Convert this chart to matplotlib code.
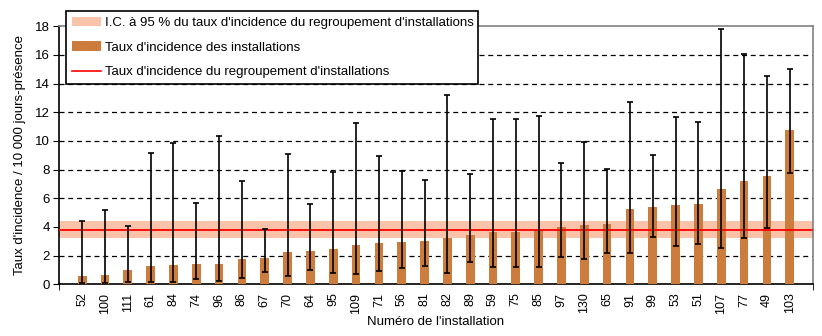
import matplotlib.pyplot as plt
from matplotlib.patches import Patch
from matplotlib.lines import Line2D
import numpy as np

plt.rcParams['font.family'] = ['Liberation Sans', 'DejaVu Sans']

# Data
installations = ['52', '100', '111', '61', '84', '74', '96', '86', '67', '70', '64',
                 '95', '109', '71', '56', '81', '82', '89', '59', '75', '85', '97',
                 '130', '65', '91', '99', '53', '51', '107', '77', '49', '103']
taux = [0.58, 0.65, 1.00, 1.28, 1.35, 1.42, 1.42, 1.77, 1.84, 2.26, 2.33,
        2.47, 2.74, 2.88, 2.95, 3.02, 3.23, 3.44, 3.65, 3.65, 3.77, 4.00,
        4.14, 4.21, 5.26, 5.40, 5.53, 5.63, 6.65, 7.21, 7.56, 10.77]
ic_bas = [0.07, 0.07, 0.19, 0.14, 0.14, 0.35, 0.21, 0.42, 0.84, 0.56, 0.98,
          0.77, 0.70, 0.91, 1.12, 1.28, 0.77, 1.53, 1.19, 1.19, 1.19, 1.88,
          1.74, 2.16, 2.16, 3.28, 2.65, 2.79, 2.51, 3.21, 3.91, 7.74]
ic_haut = [4.40, 5.16, 4.05, 9.14, 9.86, 5.65, 10.33, 7.19, 3.84, 9.07, 5.58,
           7.81, 11.23, 8.95, 7.91, 7.26, 13.19, 7.67, 11.51, 11.51, 11.77, 8.44,
           9.95, 8.07, 12.70, 9.00, 11.65, 11.30, 17.79, 16.05, 14.51, 15.00]

taux_regroupement = 3.77
ic_regroupement = (3.25, 4.40)

bar_color = '#CC7D3D'
band_color = '#F9C3AA'

fig = plt.figure(figsize=(8.22, 3.36), dpi=100)
ax = fig.add_axes([0.0722, 0.1539, 0.9163, 0.7678])

x = np.arange(len(installations))
taux = np.array(taux)
err = [taux - np.array(ic_bas), np.array(ic_haut) - taux]

# gridlines
for yv in range(2, 18, 2):
    ax.axhline(yv, color='black', lw=0.9, ls=(0, (4, 3)), zorder=1)

ax.axhspan(ic_regroupement[0], ic_regroupement[1], color=band_color, lw=0, zorder=2)
ax.bar(x, taux, width=0.38, color=bar_color, zorder=3)
ax.axhline(taux_regroupement, color='#FF0000', lw=1.3, zorder=4)
ax.errorbar(x, taux, yerr=err, fmt='none', ecolor='black', elinewidth=1.2,
            capsize=2.4, capthick=1.2, zorder=5)

ax.set_xlim(-1, 32)
ax.set_ylim(0, 18)
ax.set_yticks(range(0, 19, 2))
ax.set_xticks(x)
ax.set_xticklabels(installations, rotation=90, fontsize=9)
ax.tick_params(axis='x', length=0, pad=6)
ax.set_xticks([-1, 32], minor=True)
ax.tick_params(axis='x', which='minor', length=4, color='black')
ax.tick_params(axis='y', length=4, labelsize=9.5, pad=3)

for s in ['left', 'bottom']:
    ax.spines[s].set_color('black')
    ax.spines[s].set_linewidth(1.2)
for s in ['top', 'right']:
    ax.spines[s].set_color('#808080')
    ax.spines[s].set_linewidth(1.2)

ax.set_ylabel("Taux d'incidence / 10 000 jours-présence", fontsize=9.5, labelpad=6)
ax.set_xlabel("Numéro de l'installation", fontsize=9.5, labelpad=2)

handles = [Patch(facecolor=band_color, edgecolor='none'),
           Patch(facecolor=bar_color, edgecolor='none'),
           Line2D([0], [0], color='#FF0000', lw=1.2)]
labels = ["I.C. à 95 % du taux d'incidence du regroupement d'installations",
          "Taux d'incidence des installations",
          "Taux d'incidence du regroupement d'installations"]
leg = fig.legend(handles, labels, loc='upper left', mode='expand',
                 bbox_to_anchor=(0.080, 0.746, 0.502, 0.222),
                 bbox_transform=fig.transFigure, borderaxespad=0,
                 fancybox=False, edgecolor='black', framealpha=1,
                 fontsize=9.5, handlelength=2.2, handletextpad=0.3,
                 labelspacing=0.95, borderpad=0.45)
leg.get_frame().set_linewidth(1.2)

fig.savefig('out.png', dpi=100)
